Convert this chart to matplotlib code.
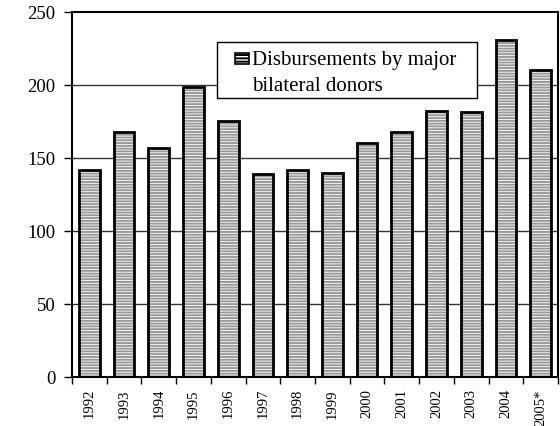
import matplotlib
matplotlib.use('Agg')
import matplotlib.pyplot as plt
from matplotlib.patches import Rectangle

plt.rcParams['font.family'] = ['Liberation Serif', 'DejaVu Serif']
plt.rcParams['hatch.linewidth'] = 1.4

# data
years = ['1992', '1993', '1994', '1995', '1996', '1997', '1998',
         '1999', '2000', '2001', '2002', '2003', '2004', '2005*']
disbursements = [142, 168, 157, 198.5, 175.5, 139, 142,
                 140, 160, 168, 182, 181.5, 231, 210]
legend_lines = ['Disbursements by major', 'bilateral donors']

W, H = 560, 427
fig = plt.figure(figsize=(W / 100, H / 100), dpi=100)
ax = fig.add_axes([0.1286, 0.1148, 0.8678, 0.8548])

x = range(len(years))
# hatch pass (gray lines), then outline pass
ax.bar(x, disbursements, width=0.6, color='white', edgecolor='#999999',
       hatch='------', linewidth=0, zorder=2)
ax.bar(x, disbursements, width=0.6, fill=False, edgecolor='black',
       linewidth=2, zorder=3)

ax.set_xlim(-0.5, len(years) - 0.5)
ax.set_ylim(0, 250)
ax.set_yticks([0, 50, 100, 150, 200, 250])
ax.set_xticks(x)
ax.set_xticklabels(years, rotation=90, fontsize=10.5)
ax.tick_params(axis='x', length=0, pad=8)
# ticks between categories
ax.set_xticks([i - 0.5 for i in range(len(years) + 1)], minor=True)
ax.tick_params(axis='x', which='minor', length=5, width=1, direction='out')
ax.tick_params(axis='y', length=6, width=1, labelsize=13.5, pad=6)

for y in [50, 100, 150, 200]:
    ax.axhline(y, color='#333333', linewidth=1, zorder=1)

for s in ax.spines.values():
    s.set_linewidth(1.5)

# legend box drawn by hand (pixel positions from the top-left corner)
def fx(px):
    return px / W

def fy(py):
    return 1 - py / H

fig.patches.append(Rectangle((fx(217), fy(99)), fx(477) - fx(217), fy(43) - fy(99),
                             transform=fig.transFigure, facecolor='white',
                             edgecolor='black', linewidth=1, zorder=5))
fig.patches.append(Rectangle((fx(235), fy(65)), fx(249) - fx(235), fy(54) - fy(65),
                             transform=fig.transFigure, facecolor='white',
                             edgecolor='black', hatch='-----', linewidth=1.2,
                             zorder=6))
fig.text(fx(252), fy(65), legend_lines[0], fontsize=15, va='baseline', zorder=6)
fig.text(fx(252), fy(91), legend_lines[1], fontsize=15, va='baseline', zorder=6)

fig.savefig('out.png', dpi=100)
